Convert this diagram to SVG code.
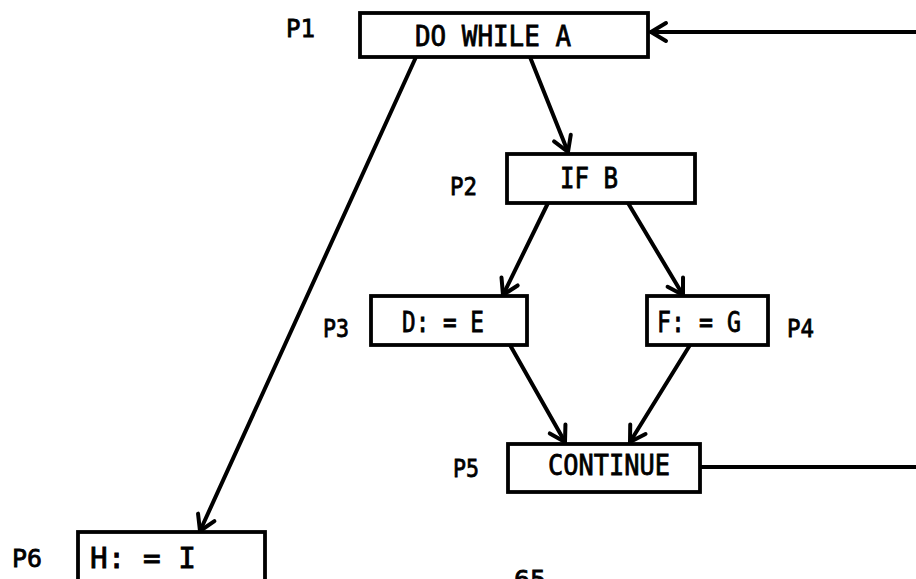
<svg xmlns="http://www.w3.org/2000/svg" width="916" height="579" viewBox="0 0 916 579">
<style>
.box{fill:#fff;stroke:#000;stroke-width:3.8}
.t{font-family:"DejaVu Sans Mono","Liberation Mono",monospace;font-size:28px;fill:#000;stroke:#000;stroke-width:0.8}
.lbl{font-family:"DejaVu Sans Mono","Liberation Mono",monospace;font-size:25px;fill:#000;stroke:#000;stroke-width:0.8}
.c{fill:none;stroke:#000;stroke-width:4;stroke-linecap:round}
</style>
<defs>
<marker id="ah" markerUnits="userSpaceOnUse" markerWidth="22" markerHeight="22" viewBox="0 0 22 22" refX="18" refY="11" orient="auto" overflow="visible">
<path d="M3,2 L18,11 L3,20" fill="none" stroke="#000" stroke-width="4" stroke-linecap="round" stroke-linejoin="round"/>
</marker>
</defs>
<rect width="916" height="579" fill="#fff"/>
<g id="connectors">
<line class="c" x1="916" y1="32" x2="651" y2="32" marker-end="url(#ah)"/>
<line class="c" x1="530" y1="57" x2="568" y2="152" marker-end="url(#ah)"/>
<line class="c" x1="416" y1="57" x2="200" y2="531" marker-end="url(#ah)"/>
<line class="c" x1="548" y1="203" x2="503" y2="295" marker-end="url(#ah)"/>
<line class="c" x1="628" y1="203" x2="683" y2="295" marker-end="url(#ah)"/>
<line class="c" x1="510" y1="345" x2="565" y2="442" marker-end="url(#ah)"/>
<line class="c" x1="690" y1="345" x2="630" y2="442" marker-end="url(#ah)"/>
<line class="c" x1="700" y1="467" x2="916" y2="467"/>
</g>
<g id="P1">
<rect class="box" x="360" y="13" width="288" height="44"/>
<text class="t" x="493" y="46" text-anchor="middle" textLength="156" lengthAdjust="spacingAndGlyphs">DO WHILE A</text>
<text class="lbl" x="286" y="37" textLength="29" lengthAdjust="spacingAndGlyphs">P1</text>
</g>
<g id="P2">
<rect class="box" x="507" y="154" width="188" height="49"/>
<text class="t" x="589" y="188" text-anchor="middle" textLength="58" lengthAdjust="spacingAndGlyphs">IF B</text>
<text class="lbl" x="450" y="195" textLength="27" lengthAdjust="spacingAndGlyphs">P2</text>
</g>
<g id="P3">
<rect class="box" x="371" y="296" width="156" height="49"/>
<text class="t" x="443" y="332" text-anchor="middle" textLength="82" lengthAdjust="spacingAndGlyphs">D: = E</text>
<text class="lbl" x="323" y="337" textLength="26" lengthAdjust="spacingAndGlyphs">P3</text>
</g>
<g id="P4">
<rect class="box" x="647" y="296" width="121" height="49"/>
<text class="t" x="699" y="332" text-anchor="middle" textLength="84" lengthAdjust="spacingAndGlyphs">F: = G</text>
<text class="lbl" x="787" y="337" textLength="27" lengthAdjust="spacingAndGlyphs">P4</text>
</g>
<g id="P5">
<rect class="box" x="508" y="444" width="192" height="48"/>
<text class="t" x="609" y="475" text-anchor="middle" textLength="122" lengthAdjust="spacingAndGlyphs">CONTINUE</text>
<text class="lbl" x="453" y="477" textLength="26" lengthAdjust="spacingAndGlyphs">P5</text>
</g>
<g id="P6">
<rect class="box" x="78" y="532" width="187" height="60"/>
<text class="t" x="143" y="568" text-anchor="middle" textLength="106" lengthAdjust="spacingAndGlyphs">H: = I</text>
<text class="lbl" x="12" y="567" textLength="30" lengthAdjust="spacingAndGlyphs">P6</text>
</g>
<text class="lbl" x="514" y="588" textLength="32" lengthAdjust="spacingAndGlyphs">65</text>
</svg>
